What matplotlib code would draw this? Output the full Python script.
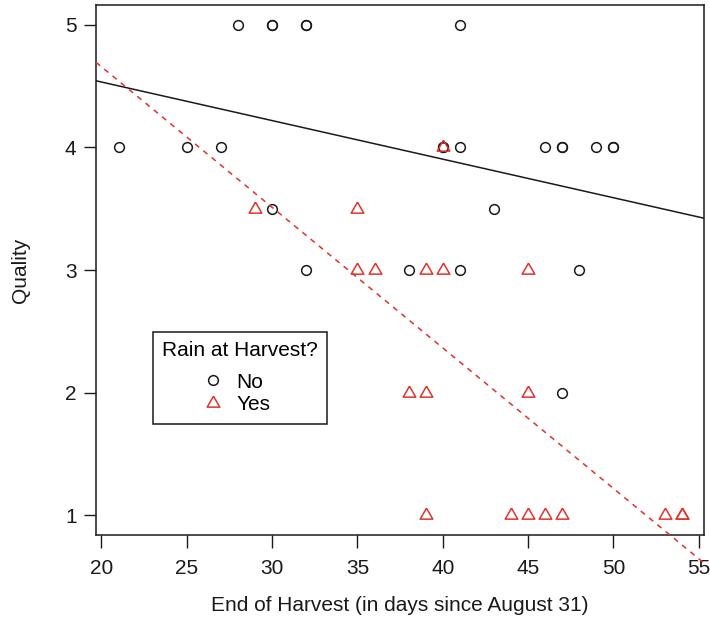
import numpy as np
import matplotlib
matplotlib.use("Agg")
import matplotlib.pyplot as plt

plt.rcParams['font.family'] = ['Liberation Sans', 'DejaVu Sans']

# Data: Chateau Latour vintages -- End of Harvest (days since Aug 31) vs Quality
no_end_of_harvest = [28, 30, 30, 32, 32, 41,
                     21, 25, 27, 40, 40, 41, 46, 47, 47, 49, 50, 50,
                     30, 43,
                     32, 38, 41, 48,
                     47]
no_quality = [5, 5, 5, 5, 5, 5,
              4, 4, 4, 4, 4, 4, 4, 4, 4, 4, 4, 4,
              3.5, 3.5,
              3, 3, 3, 3,
              2]

yes_end_of_harvest = [40,
                      29, 35,
                      35, 36, 39, 40, 45,
                      38, 39, 45,
                      39, 44, 45, 46, 47, 53, 54, 54]
yes_quality = [4,
               3.5, 3.5,
               3, 3, 3, 3, 3,
               2, 2, 2,
               1, 1, 1, 1, 1, 1, 1, 1]

x_ticks = [20, 25, 30, 35, 40, 45, 50, 55]
y_ticks = [1, 2, 3, 4, 5]

black = '#1a1a1a'
red = '#E2322B'
FS = 15

fig = plt.figure(figsize=(7.1, 6.21), dpi=100)
ax = fig.add_axes([96/710, 1-535/621, 608.3/710, 530/621])

# R-style 4% axis expansion
all_x = np.array(no_end_of_harvest + yes_end_of_harvest, float)
all_y = np.array(no_quality + yes_quality, float)
xr = all_x.max() - all_x.min()
yr = all_y.max() - all_y.min()
xlim = (all_x.min() - 0.04*xr, all_x.max() + 0.04*xr)
ylim = (all_y.min() - 0.04*yr, all_y.max() + 0.04*yr)
ax.set_xlim(*xlim)
ax.set_ylim(*ylim)

tri = [(0, 1.555), (1.3468, -0.7776), (-1.3468, -0.7776), (0, 1.555)]

ax.plot(no_end_of_harvest, no_quality, linestyle='none', marker='o',
        markersize=7.0, markerfacecolor='none', markeredgecolor=black,
        markeredgewidth=1.1, label='No', zorder=3)
ax.plot(yes_end_of_harvest, yes_quality, linestyle='none', marker=tri,
        markersize=10.5, markerfacecolor='none', markeredgecolor=red,
        markeredgewidth=1.1, label='Yes', zorder=3)

# Least squares lines per group
xs = np.array(xlim)
b_no = np.polyfit(no_end_of_harvest, no_quality, 1)
b_yes = np.polyfit(yes_end_of_harvest, yes_quality, 1)
ax.plot(xs, np.polyval(b_no, xs), color=black, lw=1.1, zorder=4)
ax.plot(xs, np.polyval(b_yes, xs), color=red, lw=1.1,
        linestyle=(0, (3.5, 3.5)), zorder=4, clip_on=False)

ax.set_xticks(x_ticks)
ax.set_yticks(y_ticks)
ax.tick_params(axis='both', direction='out', length=9, width=1,
               colors=black, labelsize=FS, labelcolor=black)
ax.tick_params(axis='x', pad=8)
ax.tick_params(axis='y', pad=5)
for s in ax.spines.values():
    s.set_color(black)
    s.set_linewidth(1.1)

ax.set_xlabel('End of Harvest (in days since August 31)', fontsize=FS, color=black)
ax.set_ylabel('Quality', fontsize=FS, color=black)
ax.xaxis.set_label_coords(0.5, (535-596)/530)
ax.yaxis.set_label_coords((30-96)/608.3, 0.5)

leg = ax.legend(title='Rain at Harvest?', loc='upper left',
                bbox_to_anchor=(152.7/710, 1-331.7/621),
                bbox_transform=fig.transFigure, borderaxespad=0,
                fontsize=FS, title_fontsize=FS, fancybox=False,
                framealpha=1, edgecolor=black, handlelength=0.3,
                handletextpad=0.95, labelspacing=0.18, borderpad=0.45,
                numpoints=1)
leg.get_frame().set_linewidth(1.1)
leg._legend_box.sep = 9

fig.savefig('out.png', dpi=100)
